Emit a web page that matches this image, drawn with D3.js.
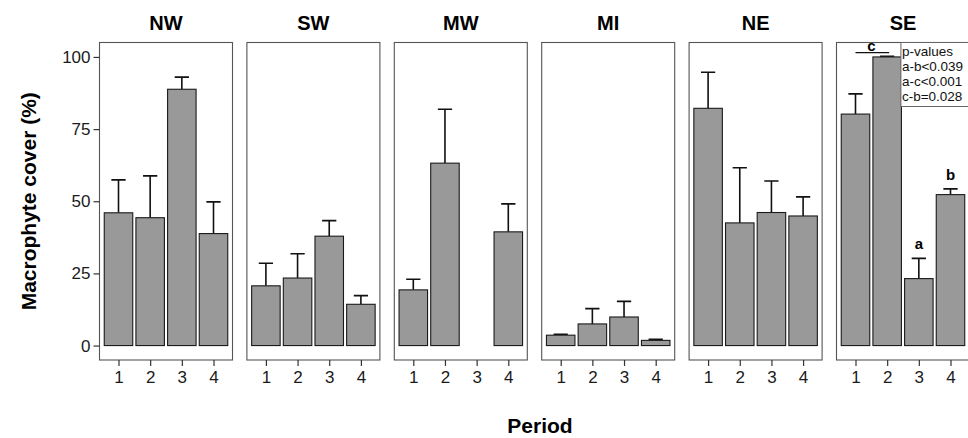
<!DOCTYPE html>
<html>
<head>
<meta charset="utf-8">
<script src="https://cdn.jsdelivr.net/npm/d3@7"></script>
<style>
  body { margin: 0; background: #fff; }
  svg { display: block; font-family: "Liberation Sans", Arial, sans-serif; }
  .tick text { fill: #1a1a1a; font-size: 17px; }
  .tick line { stroke: #333; stroke-width: 1.2px; }
  .domain { display: none; }
</style>
</head>
<body>
<div id="chart"></div>
<script>
// Data: mean cover and mean + error, per region and period
var regions = ["NW", "SW", "MW", "MI", "NE", "SE"];
var periods = ["1", "2", "3", "4"];
var yTicks = [0, 25, 50, 75, 100];

var meanNW = [46.0, 44.3, 88.8, 38.8];
var upperNW = [57.4, 58.8, 93.0, 49.8];
var meanSW = [20.7, 23.4, 37.9, 14.3];
var upperSW = [28.5, 31.8, 43.3, 17.3];
var meanMW = [19.3, 63.2, null, 39.4];
var upperMW = [23.0, 81.9, null, 49.1];
var meanMI = [3.6, 7.5, 9.9, 1.8];
var upperMI = [3.9, 12.8, 15.3, 2.2];
var meanNE = [82.2, 42.5, 46.1, 44.9];
var upperNE = [94.7, 61.6, 57.0, 51.5];
var meanSE = [80.2, 100.0, 23.2, 52.3];
var upperSE = [87.2, 100.2, 30.2, 54.3];

var means = [meanNW, meanSW, meanMW, meanMI, meanNE, meanSE];
var uppers = [upperNW, upperSW, upperMW, upperMI, upperNE, upperSE];

// significance letters in SE panel
var seLetters = [{ period: "3", text: "a" }, { period: "4", text: "b" }];
var pValues = ["p-values", "a-b<0.039", "a-c<0.001", "c-b=0.028"];

var svgWidth = 968, svgHeight = 438;
var margin = { top: 42.5, left: 99.5, bottom: 78 };
var panelW = 133, panelStep = 147.4;
var height = svgHeight - margin.top - margin.bottom;

var svg = d3.select("#chart").append("svg")
  .attr("width", svgWidth)
  .attr("height", svgHeight);

var y = d3.scaleLinear().domain([-5, 105]).range([height, 0]);
// ggplot style discrete expansion: 0.6 units on each side
var x = d3.scalePoint().domain(periods).range([panelW * 0.6 / 4.2, panelW - panelW * 0.6 / 4.2]);
var unit = x.step();
var barW = unit * 0.9;
var capW = unit * 0.45;

regions.forEach(function (reg, i) {
  var g = svg.append("g")
    .attr("transform", `translate(${margin.left + i * panelStep}, ${margin.top})`);

  g.append("rect")
    .attr("width", panelW).attr("height", height)
    .attr("fill", "#fff").attr("stroke", "#555").attr("stroke-width", 1.1);

  // title
  svg.append("text")
    .attr("x", margin.left + i * panelStep + panelW / 2)
    .attr("y", 30)
    .attr("text-anchor", "middle")
    .attr("font-size", "20px").attr("font-weight", "bold")
    .text(reg);

  var data = periods.map(function (p, j) {
    return { period: p, mean: means[i][j], upper: uppers[i][j] };
  }).filter(d => d.mean !== null);

  // error bars (upper only)
  g.selectAll(".err").data(data).enter().append("path")
    .attr("d", d => `M${x(d.period)},${y(d.mean)}V${y(d.upper)}M${x(d.period) - capW / 2},${y(d.upper)}H${x(d.period) + capW / 2}`)
    .attr("stroke", "#111").attr("stroke-width", 1.6).attr("fill", "none");

  g.selectAll(".bar").data(data).enter().append("rect")
    .attr("x", d => x(d.period) - barW / 2)
    .attr("y", d => y(d.mean))
    .attr("width", barW)
    .attr("height", d => y(0) - y(d.mean))
    .attr("fill", "#999999").attr("stroke", "#1a1a1a").attr("stroke-width", 1.1);

  g.append("g")
    .attr("transform", `translate(0, ${height})`)
    .call(d3.axisBottom(x).tickSize(6).tickPadding(5));

  if (i === 0) {
    g.append("g")
      .call(d3.axisLeft(y).tickValues(yTicks).tickSize(6).tickPadding(3));
  }

  if (reg === "SE") {
    seLetters.forEach(function (l) {
      var j = periods.indexOf(l.period);
      g.append("text")
        .attr("x", x(l.period)).attr("y", y(uppers[i][j]) - 9)
        .attr("text-anchor", "middle")
        .attr("font-size", "15px").attr("font-weight", "bold")
        .text(l.text);
    });
    // "c" bracket over periods 1 and 2
    g.append("line")
      .attr("x1", x("1")).attr("x2", x("2") + 2)
      .attr("y1", y(101.5)).attr("y2", y(101.5))
      .attr("stroke", "#111").attr("stroke-width", 1.2);
    g.append("text")
      .attr("x", (x("1") + x("2")) / 2).attr("y", y(101.5) - 2)
      .attr("text-anchor", "middle")
      .attr("font-size", "15px").attr("font-weight", "bold")
      .text("c");
    // p-value box
    var bx = 64.4;
    g.append("rect")
      .attr("x", bx).attr("y", 0)
      .attr("width", panelW - bx + 10).attr("height", 64)
      .attr("fill", "#fff").attr("stroke", "#666").attr("stroke-width", 1);
    g.selectAll(".pv").data(pValues).enter().append("text")
      .attr("x", bx + 1).attr("y", (d, k) => 13 + k * 15.3)
      .attr("font-size", "13.5px").attr("fill", "#111")
      .text(d => d);
  }
});

// axis titles
svg.append("text")
  .attr("transform", `translate(36, ${margin.top + height / 2}) rotate(-90)`)
  .attr("text-anchor", "middle")
  .attr("font-size", "21px").attr("font-weight", "bold")
  .text("Macrophyte cover (%)");

svg.append("text")
  .attr("x", 540).attr("y", 433)
  .attr("text-anchor", "middle")
  .attr("font-size", "21px").attr("font-weight", "bold")
  .text("Period");
</script>
</body>
</html>
